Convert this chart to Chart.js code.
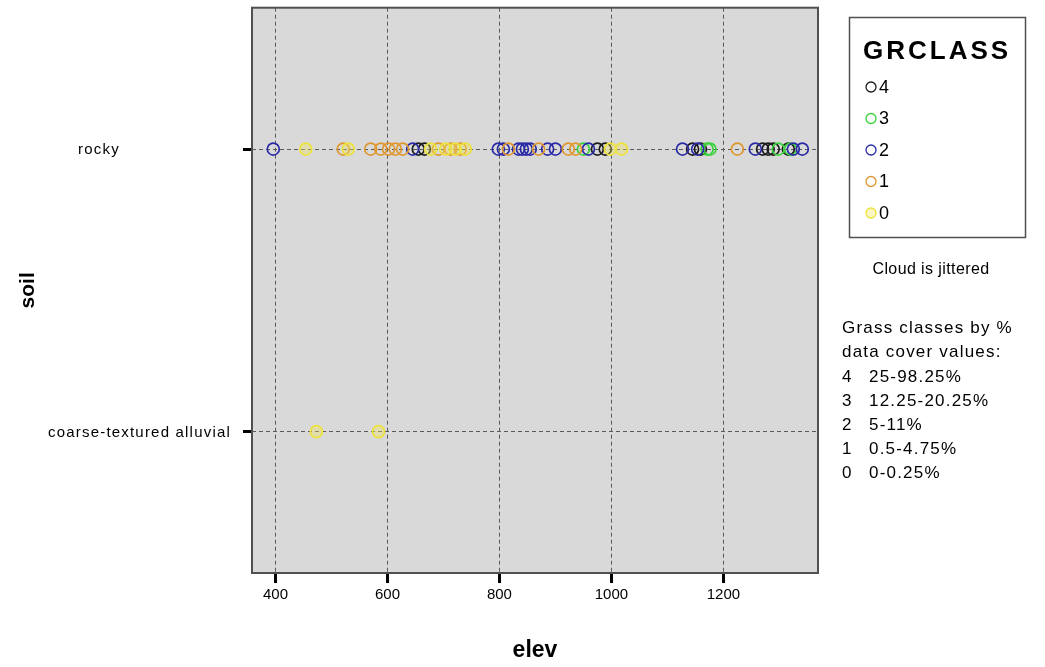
<!DOCTYPE html>
<html><head><meta charset="utf-8">
<script src="https://cdn.jsdelivr.net/npm/chart.js@4/dist/chart.umd.min.js"></script>
<style>html,body{margin:0;padding:0;background:#fff;} canvas{display:block;}</style>
</head><body>
<canvas id="c" width="1045" height="667"></canvas>
<script>
// ---- data ----
const soilCategories = ['rocky', 'coarse-textured alluvial'];
const grassClasses = ['4', '3', '2', '1', '0'];
const elevTicks = [400, 600, 800, 1000, 1200];
const classRanges = ['25-98.25%', '12.25-20.25%', '5-11%', '0.5-4.75%', '0-0.25%'];

// elevation values for rocky soil, by grass class
const rockyClass4 = [655, 666, 975, 989, 1145, 1159, 1270, 1280, 1289, 1316];
const rockyClass3 = [950, 1171, 1176, 1298, 1320];
const rockyClass2 = [396, 645, 798, 807, 834, 841, 848, 855, 886, 900, 959, 1127, 1154, 1257, 1325, 1341];
const rockyClass1 = [521, 570, 588, 602, 614, 627, 691, 713, 730, 816, 870, 923, 936, 1225];
const rockyClass0 = [454, 530, 677, 704, 721, 739, 998, 1018];
// elevation values for coarse-textured alluvial soil, by grass class
const alluvialClass4 = [];
const alluvialClass3 = [];
const alluvialClass2 = [];
const alluvialClass1 = [];
const alluvialClass0 = [473, 584];

// ---- styles ----
const classColors = ['#1c1c1c', '#3ad23a', '#2a2aa8', '#e0982e', '#ece23a'];
const classFills = ['rgba(0,0,0,0)', 'rgba(0,0,0,0)', 'rgba(0,0,0,0)', 'rgba(0,0,0,0)', 'rgba(240,232,90,0.35)'];
const FONT = '"Liberation Sans", Arial, sans-serif';

const rockyByClass = [rockyClass4, rockyClass3, rockyClass2, rockyClass1, rockyClass0];
const alluvialByClass = [alluvialClass4, alluvialClass3, alluvialClass2, alluvialClass1, alluvialClass0];

const datasets = grassClasses.map((g, i) => ({
  label: g,
  data: rockyByClass[i].map(v => ({x: v, y: 0})).concat(alluvialByClass[i].map(v => ({x: v, y: 1}))),
  borderColor: classColors[i],
  backgroundColor: classFills[i],
  pointRadius: 6,
  pointHoverRadius: 6,
  pointBorderWidth: 1.7,
  showLine: false
})).reverse(); // draw class 0 first, class 4 on top

function setSpacing(ctx, px) { if ('letterSpacing' in ctx) ctx.letterSpacing = px + 'px'; }

const decor = {
  id: 'decor',
  beforeDraw(chart) {
    const {ctx, chartArea: a} = chart;
    ctx.save();
    ctx.fillStyle = '#d9d9d9';
    ctx.fillRect(a.left, a.top, a.right - a.left, a.bottom - a.top);
    ctx.restore();
  },
  afterDraw(chart) {
    const {ctx, chartArea: a} = chart;
    const ys = chart.scales.y;
    ctx.save();
    // plot frame
    ctx.strokeStyle = '#505050';
    ctx.lineWidth = 2;
    ctx.strokeRect(a.left, a.top, a.right - a.left, a.bottom - a.top);
    // y category labels
    ctx.fillStyle = '#000';
    ctx.font = '15px ' + FONT;
    setSpacing(ctx, 1.2);
    ctx.textBaseline = 'middle';
    const anchors = [{align: 'left', x: 78}, {align: 'right', x: 231}];
    soilCategories.forEach((s, i) => {
      ctx.textAlign = anchors[i].align;
      ctx.fillText(s, anchors[i].x, ys.getPixelForValue(i) + 1);
    });
    // legend box
    ctx.strokeStyle = '#505050';
    ctx.lineWidth = 1.5;
    ctx.strokeRect(849.5, 17.5, 176, 220);
    ctx.textAlign = 'left';
    ctx.font = 'bold 26px ' + FONT;
    setSpacing(ctx, 3);
    ctx.fillText('GRCLASS', 863, 52);
    ctx.font = '18px ' + FONT;
    setSpacing(ctx, 0.5);
    grassClasses.forEach((g, i) => {
      const y = 87 + i * 31.5;
      ctx.beginPath();
      ctx.arc(871, y, 5, 0, Math.PI * 2);
      ctx.fillStyle = classFills[i];
      ctx.fill();
      ctx.strokeStyle = classColors[i];
      ctx.lineWidth = 1.3;
      ctx.stroke();
      ctx.fillStyle = '#000';
      ctx.fillText(g, 879, y + 1);
    });
    // notes
    ctx.font = '16px ' + FONT;
    setSpacing(ctx, 0.4);
    ctx.textAlign = 'center';
    ctx.fillText('Cloud is jittered', 931, 270);
    ctx.textAlign = 'left';
    ctx.font = '17px ' + FONT;
    setSpacing(ctx, 1.2);
    ctx.fillText('Grass classes by %', 842, 328);
    ctx.fillText('data cover values:', 842, 352);
    grassClasses.forEach((g, i) => {
      const y = 377 + i * 24.2;
      ctx.fillText(g, 842, y);
      ctx.fillText(classRanges[i], 869, y);
    });
    ctx.restore();
  }
};

new Chart(document.getElementById('c'), {
  type: 'scatter',
  data: {datasets},
  options: {
    responsive: false,
    animation: false,
    events: [],
    layout: {padding: {top: 7, right: 227, left: 0, bottom: 0}},
    plugins: {legend: {display: false}, tooltip: {enabled: false}},
    scales: {
      x: {
        type: 'linear',
        min: 358, max: 1369,
        afterBuildTicks(scale) { scale.ticks = elevTicks.map(v => ({value: v})); },
        afterFit(scale) { scale.height = 94; },
        border: {display: false, dash: [4, 3]},
        grid: {color: '#5a5a5a', lineWidth: 1, drawTicks: true, tickLength: 10, tickWidth: 3, tickColor: '#000', tickBorderDash: []},
        ticks: {color: '#000', font: {family: FONT, size: 15}, padding: 3, maxRotation: 0, callback: v => String(v)},
        title: {display: true, text: 'elev', color: '#000', font: {family: FONT, size: 23, weight: 'bold'}, padding: {top: 0, bottom: 3}}
      },
      y: {
        type: 'linear',
        reverse: true,
        min: -0.5, max: 1.5,
        afterBuildTicks(scale) { scale.ticks = soilCategories.map((s, i) => ({value: i})); },
        afterFit(scale) { scale.width = 252; },
        border: {display: false, dash: [4, 3]},
        grid: {color: '#5a5a5a', lineWidth: 1, drawTicks: true, tickLength: 9, tickWidth: 3, tickColor: '#000', tickBorderDash: []},
        ticks: {display: false},
        title: {display: true, text: 'soil', color: '#000', font: {family: FONT, size: 21, weight: 'bold'}, padding: {top: 16, bottom: 0}}
      }
    }
  },
  plugins: [decor]
});
</script>
</body></html>
